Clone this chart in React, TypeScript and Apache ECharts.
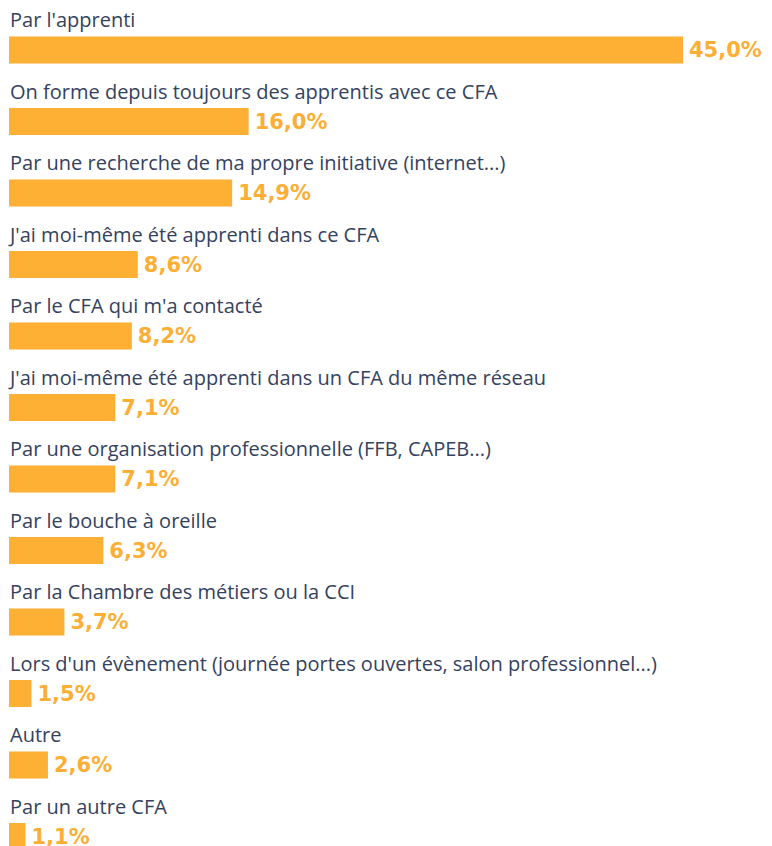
import React, { useEffect, useRef } from "react";
import * as echarts from "echarts";

const categories = [
  "Par l'apprenti",
  "On forme depuis toujours des apprentis avec ce CFA",
  "Par une recherche de ma propre initiative (internet...)",
  "J'ai moi-même été apprenti dans ce CFA",
  "Par le CFA qui m'a contacté",
  "J'ai moi-même été apprenti dans un CFA du même réseau",
  "Par une organisation professionnelle (FFB, CAPEB...)",
  "Par le bouche à oreille",
  "Par la Chambre des métiers ou la CCI",
  "Lors d'un évènement (journée portes ouvertes, salon professionnel...)",
  "Autre",
  "Par un autre CFA",
];

const values = [45.0, 16.0, 14.9, 8.6, 8.2, 7.1, 7.1, 6.3, 3.7, 1.5, 2.6, 1.1];

export default function App() {
  const ref = useRef<HTMLDivElement>(null);
  useEffect(() => {
    document.body.style.margin = "0";
    document.body.style.overflow = "hidden";
    document.documentElement.style.overflow = "hidden";
    const chart = echarts.init(ref.current!, null, { renderer: "svg" });
    chart.setOption({
      animation: false,
      grid: { left: 9, right: 89, top: 14.25, height: 858, containLabel: false },
      xAxis: {
        type: "value",
        min: 0,
        max: 45,
        show: false,
      },
      yAxis: {
        type: "category",
        data: categories,
        inverse: true,
        show: false,
      },
      series: [
        {
          type: "bar",
          data: values,
          barWidth: 27,
          itemStyle: { color: "#FDB033" },
          label: {
            show: true,
            position: "right",
            distance: 6,
            formatter: (p: any) => p.value.toFixed(1).replace(".", ",") + "%",
            fontFamily: "DejaVu Sans",
            fontWeight: "bold",
            fontSize: 21,
            color: "#FDAE35",
          },
        },
        {
          type: "bar",
          data: values,
          barWidth: 27,
          barGap: "-100%",
          itemStyle: { color: "transparent" },
          silent: true,
          label: {
            show: true,
            position: [1, -17],
            verticalAlign: "middle",
            align: "left",
            formatter: (p: any) => p.name,
            fontFamily: "Open Sans",
            fontSize: 20,
            color: "#34425E",
          },
        },
      ],
    });
    return () => chart.dispose();
  }, []);
  return <div ref={ref} style={{ width: 772, height: 890 }} />;
}
